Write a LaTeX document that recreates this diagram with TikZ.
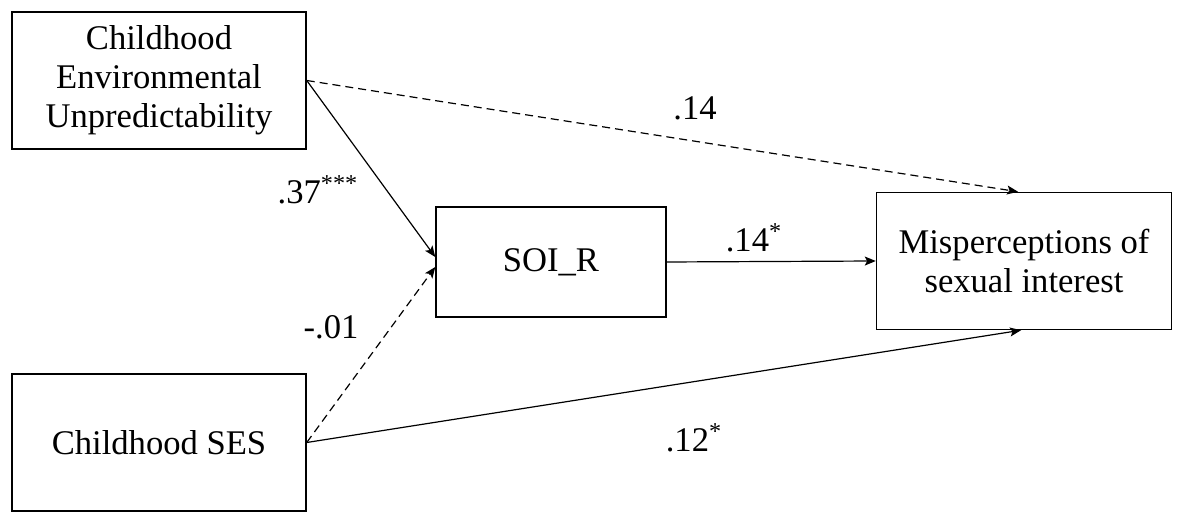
\documentclass[tikz,border=0pt]{standalone}
\usepackage{fontspec}
\setmainfont{Liberation Serif}
\usetikzlibrary{arrows.meta}
\tikzset{
  px/.style={x=0.5pt,y=-0.5pt},
  box/.style={draw,line width=0.75pt,rectangle,align=center,inner sep=0pt,
     font=\fontsize{17.3}{19.5}\selectfont},
  conn/.style={line width=0.6pt,-{Stealth[length=5.5pt,width=4.5pt,inset=1.2pt]}},
  dconn/.style={conn,dash pattern=on 4pt off 2.5pt},
  lab/.style={inner sep=0pt,font=\fontsize{17.3}{19.5}\selectfont}
}
\begin{document}
\begin{tikzpicture}[px]
\useasboundingbox (0,0) rectangle (1181,522);
\node[box,minimum width=147pt,minimum height=68.5pt] (cEU) at (159,80.5) {Childhood\\Environmental\\Unpredictability};
\node[box,minimum width=115pt,minimum height=55pt] (soi) at (551,262) {SOI\_R};
\node[box,minimum width=147.5pt,minimum height=68.5pt] (mis) at (1024,261) {Misperceptions of\\sexual interest};
\node[box,minimum width=147pt,minimum height=68.5pt] (ses) at (159,442.5) {Childhood SES};

\draw[conn] (cEU.east) -- ([yshift=2.5pt]soi.west);
\draw[dconn] (ses.east) -- ([yshift=-2.5pt]soi.west);
\draw[dconn] (cEU.east) -- ([xshift=-3pt]mis.north);
\draw[conn] (soi.east) -- (mis.west);
\draw[conn] (ses.east) -- ([xshift=-1.5pt]mis.south);

\node[lab] (l1) at (318,190) {.37\textsuperscript{***}};
\node[lab] (l2) at (331,327) {-.01};
\node[lab] (l3) at (695,108) {.14};
\node[lab] (l4) at (754,238) {.14\textsuperscript{*}};
\node[lab] (l5) at (694,438) {.12\textsuperscript{*}};
\end{tikzpicture}
\end{document}
